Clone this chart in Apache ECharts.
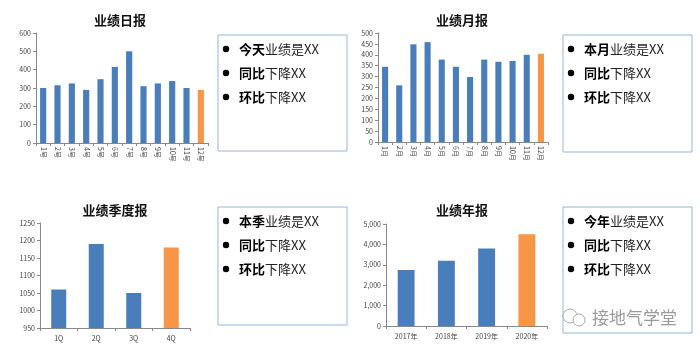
<!DOCTYPE html>
<html lang="zh">
<head>
    <meta charset="UTF-8">
    <title>业绩报表</title>
    <style>
        html, body { margin: 0; padding: 0; background: #fff; }
        #main { width: 700px; height: 351px; }
    </style>
</head>
<body>
    <div id="main"></div>
    <script src="https://cdn.jsdelivr.net/npm/echarts@6/dist/echarts.min.js"></script>
    <script>
        // 数据
        var dayCats = ['1号','2号','3号','4号','5号','6号','7号','8号','9号','10号','11号','12号'];
        var dayVals = [300, 315, 325, 290, 348, 415, 500, 310, 325, 338, 300, 290];
        var monthCats = ['1月','2月','3月','4月','5月','6月','7月','8月','9月','10月','11月','12月'];
        var monthVals = [345, 260, 448, 458, 378, 345, 298, 378, 368, 372, 400, 405];
        var quarterCats = ['1Q','2Q','3Q','4Q'];
        var quarterVals = [1060, 1190, 1050, 1180];
        var yearCats = ['2017年','2018年','2019年','2020年'];
        var yearVals = [2750, 3200, 3800, 4500];

        var titles = ['业绩日报', '业绩月报', '业绩季度报', '业绩年报'];
        var firstLines = [['今天', '业绩是XX'], ['本月', '业绩是XX'], ['本季', '业绩是XX'], ['今年', '业绩是XX']];

        var BLUE = '#4a7ebb';
        var ORANGE = '#f79646';
        var FONT = '"Noto Sans CJK SC", "Noto Sans", sans-serif';

        // 最后一根柱子标橙色
        function colored(vals) {
            return vals.map(function (v, i) {
                return { value: v, itemStyle: { color: i === vals.length - 1 ? ORANGE : BLUE } };
            });
        }

        var grids = [
            { left: 36, right: 492, top: 33, bottom: 208 },
            { left: 378, right: 152, top: 33, bottom: 209 },
            { left: 40, right: 510, top: 223, bottom: 23 },
            { left: 386, right: 153, top: 224, bottom: 25 }
        ];

        var axisLine = { show: true, lineStyle: { color: '#888', width: 1 } };
        var tickLabel = { color: '#444', fontSize: 7, fontFamily: FONT };

        var xAxes = [dayCats, monthCats, quarterCats, yearCats].map(function (cats, i) {
            return {
                type: 'category', gridIndex: i, data: cats,
                axisLine: axisLine,
                axisTick: { show: true, length: 3, lineStyle: { color: '#888' } },
                axisLabel: i < 2
                    ? Object.assign({ rotate: -90, margin: 4, interval: 0 }, tickLabel)
                    : Object.assign({ margin: 7, interval: 0 }, tickLabel)
            };
        });

        var yAxes = [
            { min: 0, max: 600, interval: 100 },
            { min: 0, max: 500, interval: 50 },
            { min: 950, max: 1250, interval: 50 },
            { min: 0, max: 5000, interval: 1000 }
        ].map(function (s, i) {
            return {
                type: 'value', gridIndex: i, min: s.min, max: s.max, interval: s.interval,
                splitLine: { show: false },
                axisLine: axisLine,
                axisTick: { show: true, length: 3, lineStyle: { color: '#888' } },
                axisLabel: Object.assign({
                    margin: 5,
                    formatter: function (v) {
                        return i === 3 ? v.toLocaleString('en-US') : String(v);
                    }
                }, tickLabel)
            };
        });

        var allVals = [dayVals, monthVals, quarterVals, yearVals];
        var widths = ['43%', '43%', '40%', '42%'];
        var series = allVals.map(function (vals, i) {
            return {
                type: 'bar', xAxisIndex: i, yAxisIndex: i,
                barWidth: widths[i],
                data: colored(vals)
            };
        });

        var titleOpts = [
            { left: 115, top: 9 }, { left: 457, top: 9 },
            { left: 110, top: 199 }, { left: 457, top: 199 }
        ].map(function (p, i) {
            return {
                text: titles[i], left: p.left, top: p.top, textAlign: 'center',
                textStyle: { fontSize: 13, fontWeight: 'bold', color: '#111', fontFamily: FONT }
            };
        });

        // 右侧文字框
        var boxes = [
            { x: 218, y: 35, w: 129, h: 116 },
            { x: 563, y: 35, w: 129, h: 117 },
            { x: 218, y: 207, w: 129, h: 118 },
            { x: 563, y: 207, w: 129, h: 126 }
        ];
        var graphics = [];
        boxes.forEach(function (b, i) {
            graphics.push({
                type: 'rect', shape: { x: b.x, y: b.y, width: b.w, height: b.h },
                style: { fill: '#fff', stroke: '#95b3d7', lineWidth: 1 }, z: 1
            });
            var lines = [firstLines[i], ['同比', '下降XX'], ['环比', '下降XX']];
            lines.forEach(function (ln, k) {
                var cy = b.y + 14 + k * 24;
                graphics.push({
                    type: 'circle', shape: { cx: b.x + 8, cy: cy, r: 3.2 },
                    style: { fill: '#000' }, z: 2
                });
                graphics.push({
                    type: 'text', x: b.x + 21, y: cy, z: 2,
                    style: {
                        text: '{b|' + ln[0] + '}{n|' + ln[1] + '}',
                        verticalAlign: 'middle',
                        rich: {
                            b: { fontSize: 13, fontWeight: 'bold', fill: '#000', fontFamily: FONT },
                            n: { fontSize: 13, fill: '#222', fontFamily: FONT }
                        }
                    }
                });
            });
        });

        // 水印
        graphics.push({
            type: 'circle', z: 5, shape: { cx: 570, cy: 316, r: 7 },
            style: { fill: '#fff', stroke: '#aaa', lineWidth: 1 }
        });
        graphics.push({
            type: 'circle', z: 6, shape: { cx: 579, cy: 320, r: 6 },
            style: { fill: '#fff', stroke: '#aaa', lineWidth: 1 }
        });
        graphics.push({
            type: 'text', z: 7, x: 592, y: 318,
            style: {
                text: '接地气学堂', fontSize: 17, fill: '#9a9a9a', fontFamily: FONT,
                verticalAlign: 'middle'
            }
        });

        var myChart = echarts.init(document.getElementById('main'));
        myChart.setOption({
            animation: false,
            title: titleOpts,
            grid: grids,
            xAxis: xAxes,
            yAxis: yAxes,
            series: series,
            graphic: graphics
        });
    </script>
</body>
</html>
